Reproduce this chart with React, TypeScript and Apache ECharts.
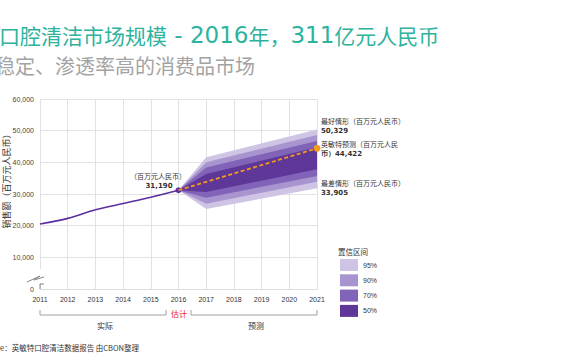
import React, { useEffect, useRef } from "react";
import * as echarts from "echarts";

const histYears = [2011, 2012, 2013, 2014, 2015, 2016];
const histValues = [20500, 22300, 25000, 27000, 29000, 31190];

const forecastYears = [2016, 2021];
const forecastValues = [31190, 44422];

const fanYears = [2016, 2017, 2021];
const band95Upper = [31190, 41600, 50329];
const band95Lower = [31190, 25300, 31800];
const band90Upper = [31190, 40000, 48600];
const band90Lower = [31190, 26900, 33905];
const band70Upper = [31190, 38400, 46700];
const band70Lower = [31190, 28800, 35700];
const band50Upper = [31190, 36300, 44800];
const band50Lower = [31190, 30600, 37800];

const bandNames = ["95%", "90%", "70%", "50%"];
const bandColors = ["#cfc4e4", "#a894cf", "#8163b8", "#5e3799"];
const bandUppers = [band95Upper, band90Upper, band70Upper, band50Upper];
const bandLowers = [band95Lower, band90Lower, band70Lower, band50Lower];

const yTicks = [0, 60000, 10000];

const fmt = (v: number) => v.toLocaleString("en-US");

const CJK = '"Noto Sans CJK SC", sans-serif';
const SANS = '"Liberation Sans", Arial, sans-serif';
const NUM = '"DejaVu Sans", Verdana, sans-serif';

export default function App() {
  const ref = useRef<HTMLDivElement>(null);
  useEffect(() => {
    document.body.style.margin = "0";
    if (!ref.current) return;
    const chart = echarts.init(ref.current, null, { renderer: "svg" });

    const bandSeries = bandNames.map((name, bi) => ({
      name,
      type: "custom",
      data: [[fanYears[0], bandUppers[bi][0]]],
      encode: { x: 0, y: 1 },
      itemStyle: { color: bandColors[bi] },
      z: 2,
      renderItem: (params: any, api: any) => {
        const up = fanYears.map((yr, i) => api.coord([yr, bandUppers[bi][i]]));
        const lo = fanYears
          .map((yr, i) => api.coord([yr, bandLowers[bi][i]]))
          .reverse();
        return {
          type: "polygon",
          shape: { points: up.concat(lo) },
          style: { fill: bandColors[bi], stroke: "none" },
        };
      },
    }));

    const text = (
      t: string,
      x: number,
      y: number,
      size: number,
      opts: any = {}
    ) => ({
      type: "text",
      x,
      y,
      z: 100,
      ...(opts.rotation ? { rotation: opts.rotation } : {}),
      style: {
        text: t,
        fontSize: size,
        fontFamily: opts.family || CJK,
        fontWeight: opts.weight || "normal",
        fill: opts.color || "#333",
        align: opts.align || "left",
        verticalAlign: "middle",
        ...(opts.rich ? { rich: opts.rich } : {}),
      },
    });

    const line = (points: number[][], color = "#a0a0a0") => ({
      type: "polyline",
      z: 100,
      shape: { points },
      style: { stroke: color, lineWidth: 1, fill: "none" },
    });

    const last = histValues.length - 1;

    chart.setOption({
      animation: false,
      grid: { left: 40, right: 253, top: 99, bottom: 71 },
      legend: {
        data: bandNames,
        orient: "vertical",
        left: 340,
        top: 259,
        itemWidth: 18,
        itemHeight: 12,
        itemGap: 3.3,
        icon: "rect",
        padding: 0,
        textStyle: { fontSize: 7, color: "#333", fontFamily: SANS },
        selectedMode: false,
      },
      xAxis: {
        type: "value",
        min: 2011,
        max: 2021,
        interval: 1,
        axisLine: { show: true, lineStyle: { color: "#dddddd" } },
        axisTick: { show: false },
        axisLabel: {
          formatter: (v: number) => String(v),
          fontSize: 7,
          color: "#333",
          fontFamily: SANS,
          margin: 7,
        },
        splitLine: { show: true, lineStyle: { color: "#e2e2e2" } },
      },
      yAxis: {
        type: "value",
        min: yTicks[0],
        max: yTicks[1],
        interval: yTicks[2],
        axisLine: { show: false },
        axisTick: { show: false },
        axisLabel: {
          formatter: (v: number) => fmt(v),
          fontSize: 7,
          color: "#444",
          fontFamily: SANS,
          margin: 6,
        },
        splitLine: { show: true, lineStyle: { color: "#e2e2e2" } },
      },
      series: [
        ...bandSeries,
        {
          name: "实际",
          type: "line",
          smooth: 0.3,
          z: 5,
          data: histYears.map((yr, i) =>
            i === last
              ? { value: [yr, histValues[i]], symbol: "circle", symbolSize: 6 }
              : { value: [yr, histValues[i]], symbol: "none" }
          ),
          lineStyle: { color: "#5b2fa0", width: 1.6 },
          itemStyle: { color: "#5b2fa0" },
        },
        {
          name: "预测",
          type: "line",
          z: 6,
          data: forecastYears.map((yr, i) =>
            i === forecastYears.length - 1
              ? { value: [yr, forecastValues[i]], symbol: "circle", symbolSize: 7 }
              : { value: [yr, forecastValues[i]], symbol: "none" }
          ),
          lineStyle: { color: "#f39a1e", width: 1.8, type: [4, 2.5] },
          itemStyle: { color: "#f39a1e" },
        },
      ],
      graphic: [
        text(
          "{c|口腔清洁市场规模}{n| - 2016}{c|年，}{n|311}{c|亿元人民币}",
          -1,
          35,
          21,
          {
            color: "#2db39d",
            rich: {
              c: { fontSize: 21, fontFamily: CJK, color: "#2db39d" },
              n: { fontSize: 23, fontFamily: NUM, color: "#2db39d" },
            },
          }
        ),
        text("稳定、渗透率高的消费品市场", -5, 65, 20, { color: "#a3a3a3" }),
        text("销售额（百万元人民币）", 6, 179, 9, {
          rotation: Math.PI / 2,
          align: "center",
        }),
        // axis break
        {
          type: "rect",
          z: 99,
          shape: { x: 37, y: 269, width: 6, height: 14 },
          style: { fill: "#ffffff" },
        },
        line([[27, 282], [40, 276], [34, 280], [44, 277]], "#888"),
        line([[40, 284], [40, 289]], "#888"),
        line([[40, 284], [44, 284]], "#888"),
        // 2016 annotation
        text("（百万元人民币）", 158, 176, 7, { align: "center" }),
        text(fmt(histValues[last]), 159, 186, 7, {
          family: NUM,
          weight: "bold",
          align: "center",
        }),
        // right labels
        text("最好情形（百万元人民币）", 321, 121, 7),
        text(fmt(band95Upper[2]), 321, 131, 7, { family: NUM, weight: "bold" }),
        text("英敏特预测（百万元人民", 321, 144, 7),
        text("币）" + fmt(forecastValues[1]), 321, 154, 7, {
          family: NUM,
          weight: "bold",
        }),
        text("最差情形（百万元人民币）", 321, 183, 7),
        text(fmt(band90Lower[2]), 321, 193, 7, { family: NUM, weight: "bold" }),
        // legend title
        text("置信区间", 338, 251, 7.5),
        // brackets
        line([[40, 310], [40, 315], [166, 315], [166, 310]]),
        line([[191, 310], [191, 315], [317, 315], [317, 310]]),
        text("估计", 179, 313, 8, { color: "#e8262a", align: "center" }),
        text("实际", 105, 325, 8, { align: "center" }),
        text("预测", 256, 325, 8, { align: "center" }),
        text("e：英敏特口腔清洁数据报告 由CBON整理", 0, 347, 7.5),
      ],
    });
    return () => chart.dispose();
  }, []);
  return <div ref={ref} style={{ width: 570, height: 360 }} />;
}
